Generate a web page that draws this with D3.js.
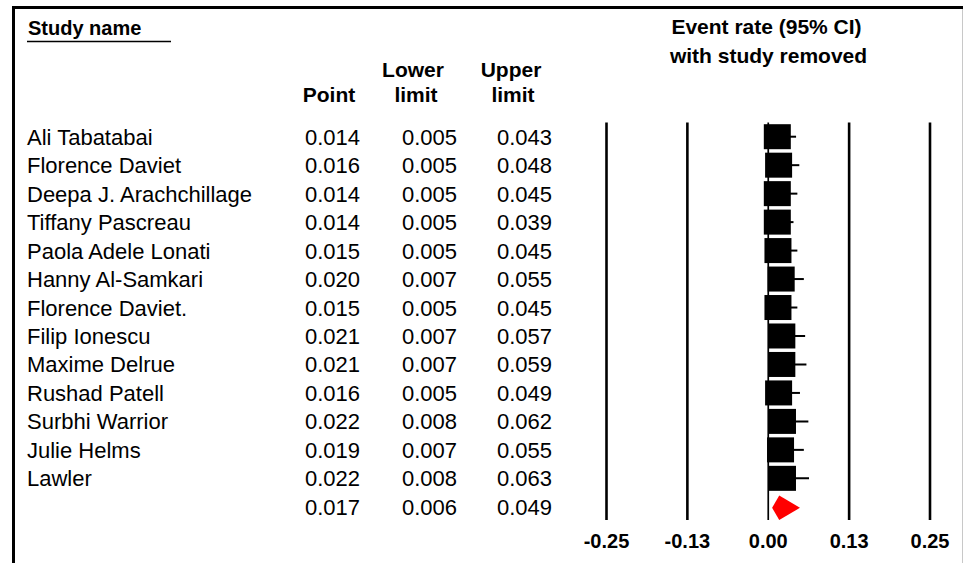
<!DOCTYPE html>
<html>
<head>
<meta charset="utf-8">
<script src="https://cdn.jsdelivr.net/npm/d3@7"></script>
<style>
  body { margin: 0; background: #fff; }
  text { font-family: "Liberation Sans", Arial, sans-serif; fill: #000; }
</style>
</head>
<body>
<div id="chart"></div>
<script>
const width = 963;
const height = 563;

// données
const studies = ["Ali Tabatabai", "Florence Daviet", "Deepa J. Arachchillage", "Tiffany Pascreau",
  "Paola Adele Lonati", "Hanny Al-Samkari", "Florence Daviet.", "Filip Ionescu", "Maxime Delrue",
  "Rushad Patell", "Surbhi Warrior", "Julie Helms", "Lawler"];
const points = [0.014, 0.016, 0.014, 0.014, 0.015, 0.020, 0.015, 0.021, 0.021, 0.016, 0.022, 0.019, 0.022];
const lowers = [0.005, 0.005, 0.005, 0.005, 0.005, 0.007, 0.005, 0.007, 0.007, 0.005, 0.008, 0.007, 0.008];
const uppers = [0.043, 0.048, 0.045, 0.039, 0.045, 0.055, 0.045, 0.057, 0.059, 0.049, 0.062, 0.055, 0.063];
const summary = { point: 0.017, lower: 0.006, upper: 0.049 };
const tickValues = [-0.25, -0.125, 0, 0.125, 0.25];
const tickLabels = ["-0.25", "-0.13", "0.00", "0.13", "0.25"];

const rows = studies.map((name, i) => ({ name, point: points[i], lower: lowers[i], upper: uppers[i] }));

// échelles
const x = d3.scaleLinear().domain([-0.25, 0.25]).range([606.5, 930]);
const y = d3.scaleLinear().domain([0, 13]).range([136.7, 136.7 + 13 * 28.47]);
const fmt = d3.format(".3f");

const svg = d3.select("#chart")
    .append("svg")
    .attr("width", width)
    .attr("height", height)
    .attr("viewBox", `0 0 ${width} ${height}`);

// cadre
svg.append("line").attr("x1", 12).attr("x2", 963).attr("y1", 7.5).attr("y2", 7.5)
    .attr("stroke", "#000").attr("stroke-width", 3);
svg.append("line").attr("x1", 13.5).attr("x2", 13.5).attr("y1", 6).attr("y2", height)
    .attr("stroke", "#000").attr("stroke-width", 3);
svg.append("line").attr("x1", 962.5).attr("x2", 962.5).attr("y1", 9).attr("y2", height)
    .attr("stroke", "#c8c8c8").attr("stroke-width", 1);

// en-têtes
svg.append("text").attr("x", 28).attr("y", 35)
    .attr("font-size", 20).attr("font-weight", "bold").text("Study name");
svg.append("line").attr("x1", 27).attr("x2", 171).attr("y1", 41.5).attr("y2", 41.5)
    .attr("stroke", "#000").attr("stroke-width", 1.5);

const headers = [
  { t: "Point", x: 329, y: 102 },
  { t: "Lower", x: 413, y: 77 },
  { t: "limit", x: 416, y: 102 },
  { t: "Upper", x: 511, y: 77 },
  { t: "limit", x: 513, y: 102 },
  { t: "Event rate (95% CI)", x: 766.5, y: 34 },
  { t: "with study removed", x: 768.5, y: 63 }
];
svg.selectAll("text.head")
    .data(headers)
    .join("text")
    .attr("class", "head")
    .attr("x", d => d.x).attr("y", d => d.y)
    .attr("text-anchor", "middle")
    .attr("font-size", 21).attr("font-weight", "bold")
    .text(d => d.t);

// colonnes de texte
const tableRows = rows.concat([{ name: "", ...summary }]);
const g = svg.selectAll("g.row")
    .data(tableRows)
    .join("g")
    .attr("class", "row")
    .attr("transform", (d, i) => `translate(0,${y(i) + 8})`);

g.append("text").attr("x", 27).attr("font-size", 22).text(d => d.name);
g.append("text").attr("x", 360).attr("text-anchor", "end").attr("font-size", 22).text(d => fmt(d.point));
g.append("text").attr("x", 457).attr("text-anchor", "end").attr("font-size", 22).text(d => fmt(d.lower));
g.append("text").attr("x", 552).attr("text-anchor", "end").attr("font-size", 22).text(d => fmt(d.upper));

// lignes verticales
svg.selectAll("line.grid")
    .data(tickValues)
    .join("line")
    .attr("class", "grid")
    .attr("x1", d => x(d)).attr("x2", d => x(d))
    .attr("y1", 122.5).attr("y2", 520)
    .attr("stroke", "#000")
    .attr("stroke-width", d => d === 0 ? 1.7 : 2.6);

svg.selectAll("text.tick")
    .data(tickValues)
    .join("text")
    .attr("class", "tick")
    .attr("x", d => x(d)).attr("y", 548)
    .attr("text-anchor", "middle")
    .attr("font-size", 20).attr("font-weight", "bold")
    .text((d, i) => tickLabels[i]);

// intervalles de confiance et carrés
const box = { w: 27, h: 25 };
svg.selectAll("line.ci")
    .data(rows)
    .join("line")
    .attr("class", "ci")
    .attr("x1", d => x(d.lower)).attr("x2", d => x(d.upper))
    .attr("y1", (d, i) => y(i)).attr("y2", (d, i) => y(i))
    .attr("stroke", "#000").attr("stroke-width", 2);

svg.selectAll("rect.pt")
    .data(rows)
    .join("rect")
    .attr("class", "pt")
    .attr("x", d => x(d.point) - box.w / 2)
    .attr("y", (d, i) => y(i) - box.h / 2)
    .attr("width", box.w).attr("height", box.h)
    .attr("fill", "#000");

// losange résumé
const yc = y(13) + 1;
svg.append("path")
    .attr("d", `M${x(summary.lower)},${yc} L${x(summary.point)},${yc - 12.3} L${x(summary.upper)},${yc} L${x(summary.point)},${yc + 12.3} Z`)
    .attr("fill", "#ff0000");
</script>
</body>
</html>
